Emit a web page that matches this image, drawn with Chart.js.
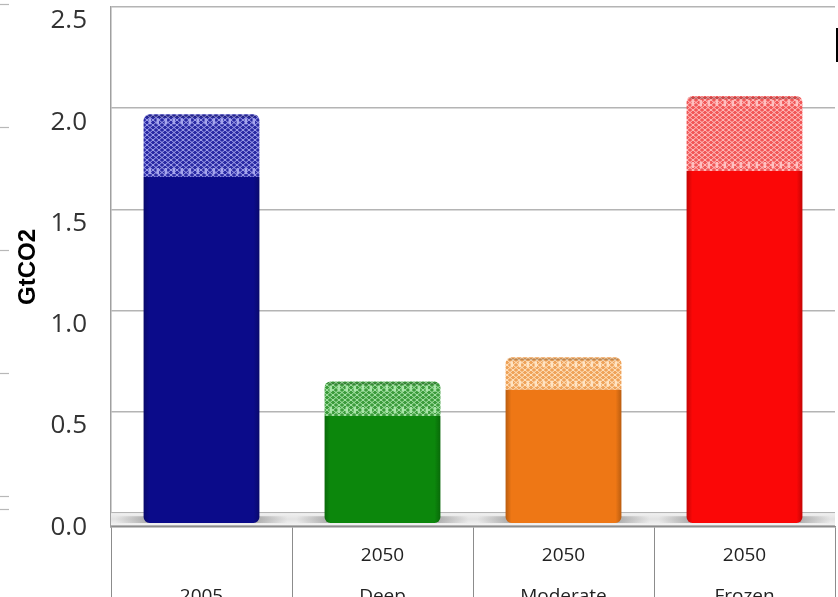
<!DOCTYPE html>
<html>
<head>
<meta charset="utf-8">
<script src="https://cdn.jsdelivr.net/npm/chart.js@4.4.1/dist/chart.umd.min.js"></script>
<style>
  html, body { margin: 0; padding: 0; background: #ffffff; }
  #wrap { width: 838px; height: 597px; position: relative; }
</style>
</head>
<body>
<div id="wrap"><canvas id="c"></canvas></div>
<script>
// Emissions per scenario, split into the firm part and the uncertain (hatched) upper part
const categories = [['', '2005'], ['2050', 'Deep'], ['2050', 'Moderate'], ['2050', 'Frozen']];
const baseValues = [1.66, 0.48, 0.61, 1.69];
const upperValues = [0.31, 0.17, 0.16, 0.37];
const yTicks = [0, 0.5, 1.0, 1.5, 2.0, 2.5];

const solidColors = ['#0b0b8a', '#0c870c', '#ee7715', '#fb0707'];
const meshBase = ['#2a2aa4', '#3c9c3c', '#efa35a', '#f25858'];
const meshLine = ['#a4a4ec', '#a8e4a8', '#ffe3c2', '#ffc0c0'];

const BAR_PCT = 0.64;

function shade(hex, amt) {
  const n = parseInt(hex.slice(1), 16);
  let r = (n >> 16) & 255, g = (n >> 8) & 255, b = n & 255;
  const f = v => Math.max(0, Math.min(255, Math.round(amt < 0 ? v * (1 + amt) : v + (255 - v) * amt)));
  return `rgb(${f(r)},${f(g)},${f(b)})`;
}

function barGeom(chart, i) {
  const xs = chart.scales.x;
  const center = xs.getPixelForValue(i);
  const w = (xs.width / categories.length) * BAR_PCT;
  return { center, w };
}

function solidFill(ctx) {
  const i = ctx.dataIndex;
  if (i === undefined || !ctx.chart.scales.x) return solidColors[0];
  const { center, w } = barGeom(ctx.chart, i);
  const c = solidColors[i];
  if (!isFinite(center) || !isFinite(w) || w <= 0) return c;
  const g = ctx.chart.ctx.createLinearGradient(center - w / 2, 0, center + w / 2, 0);
  g.addColorStop(0, shade(c, -0.22));
  g.addColorStop(0.05, c);
  g.addColorStop(0.95, c);
  g.addColorStop(1, shade(c, -0.22));
  return g;
}

// Small diamond mesh tile for the upper segments
function meshPattern(i) {
  const t = document.createElement('canvas');
  t.width = 6; t.height = 5;
  const g = t.getContext('2d');
  g.fillStyle = meshBase[i];
  g.fillRect(0, 0, 6, 5);
  g.strokeStyle = meshLine[i];
  g.lineWidth = 1;
  g.beginPath();
  g.moveTo(0, 2.5); g.lineTo(3, 0); g.lineTo(6, 2.5); g.lineTo(3, 5); g.closePath();
  g.stroke();
  return document.createElement('canvas').getContext('2d').createPattern(t, 'repeat');
}
const meshPatterns = solidColors.map((_, i) => meshPattern(i));

// Grey 3D floor under the bars, with soft shadows beside each bar
const floorPlugin = {
  id: 'floor',
  beforeDatasetsDraw(chart) {
    const { ctx, chartArea, scales } = chart;
    const y0 = scales.y.getPixelForValue(0);
    const yb = chartArea.bottom - 2;
    ctx.save();
    const g = ctx.createLinearGradient(0, y0, 0, yb);
    g.addColorStop(0, '#f1f1f1');
    g.addColorStop(0.5, '#e2e2e2');
    g.addColorStop(1, '#f3f3f3');
    ctx.fillStyle = g;
    ctx.fillRect(chartArea.left, y0, chartArea.right - chartArea.left, yb - y0);
    ctx.strokeStyle = '#b4b4b4';
    ctx.lineWidth = 1;
    ctx.beginPath();
    ctx.moveTo(chartArea.left, yb + 0.5);
    ctx.lineTo(chartArea.right, yb + 0.5);
    ctx.stroke();
    categories.forEach((_, i) => {
      const { center, w } = barGeom(chart, i);
      const l = center - w / 2 - 28, r = center + w / 2 + 28;
      const sg = ctx.createLinearGradient(l, 0, r, 0);
      sg.addColorStop(0, 'rgba(90,90,90,0)');
      sg.addColorStop(0.2, 'rgba(90,90,90,0.45)');
      sg.addColorStop(0.8, 'rgba(90,90,90,0.45)');
      sg.addColorStop(1, 'rgba(90,90,90,0)');
      ctx.fillStyle = sg;
      ctx.fillRect(l, y0 + 3, r - l, yb - y0 - 5);
    });
    ctx.restore();
  }
};

// Light fringe of short dashes along the top and bottom of each hatched segment
const fringePlugin = {
  id: 'fringe',
  afterDatasetsDraw(chart) {
    const meta = chart.getDatasetMeta(1);
    const { ctx } = chart;
    ctx.save();
    meta.data.forEach((el, i) => {
      const left = el.x - el.width / 2, right = el.x + el.width / 2;
      ctx.fillStyle = meshLine[i];
      [el.y + 4, el.base - 9].forEach(yy => {
        for (let x = left + 5; x < right - 5; x += 8) {
          ctx.fillRect(x, yy, 2.5, 6);
        }
      });
      ctx.fillStyle = 'rgba(0,0,0,0.18)';
      ctx.fillRect(left + 3, el.y + 1, el.width - 6, 2);
    });
    ctx.restore();
  }
};

// Frame bits around the plot: neighbouring rules on the left and the legend edge at the right
const framePlugin = {
  id: 'frame',
  afterDraw(chart) {
    const { ctx, width } = chart;
    ctx.save();
    ctx.strokeStyle = '#b8b8b8';
    ctx.lineWidth = 1.2;
    [4, 127, 250, 373, 496, 509].forEach(y => {
      ctx.beginPath();
      ctx.moveTo(0, y + 0.5);
      ctx.lineTo(9, y + 0.5);
      ctx.stroke();
    });
    ctx.fillStyle = '#000';
    ctx.fillRect(width - 2, 28, 2, 34);
    ctx.restore();
  }
};

new Chart(document.getElementById('c'), {
  type: 'bar',
  data: {
    labels: categories,
    datasets: [
      {
        data: baseValues,
        backgroundColor: solidFill,
        borderRadius: { topLeft: 0, topRight: 0, bottomLeft: 6, bottomRight: 6 },
        borderSkipped: false,
        base: -0.048,
        barPercentage: BAR_PCT,
        categoryPercentage: 1
      },
      {
        data: upperValues,
        backgroundColor: ctx => meshPatterns[ctx.dataIndex ?? 0],
        borderRadius: { topLeft: 6, topRight: 6, bottomLeft: 0, bottomRight: 0 },
        borderSkipped: false,
        barPercentage: BAR_PCT,
        categoryPercentage: 1
      }
    ]
  },
  options: {
    responsive: true,
    maintainAspectRatio: false,
    animation: false,
    layout: { padding: { top: 7, right: 3, left: 0, bottom: 0 } },
    plugins: { legend: { display: false }, tooltip: { enabled: false } },
    scales: {
      x: {
        stacked: true,
        afterFit: s => { s.height = 70; s.paddingLeft = 0; s.paddingRight = 0; },
        grid: { drawOnChartArea: false, drawTicks: true, tickLength: 80, color: '#8c8c8c', lineWidth: 1, offset: true },
        border: { display: true, color: '#8c8c8c', width: 1.5 },
        ticks: {
          padding: -72, maxRotation: 0, autoSkip: false, color: '#222',
          font: { family: 'Open Sans', size: 19, lineHeight: 41 / 19 }
        }
      },
      y: {
        stacked: true,
        min: -0.068,
        max: 2.5,
        afterBuildTicks: s => { s.ticks = yTicks.map(v => ({ value: v })); },
        afterFit: s => { s.width = 111; s.paddingTop = 0; s.paddingBottom = 0; },
        grid: { color: '#b4b4b4', lineWidth: 1.5, drawTicks: false },
        border: { display: true, color: '#a0a0a0', width: 1.5 },
        ticks: {
          padding: 24, labelOffset: 14, color: '#333',
          font: { family: 'Open Sans', size: 26 },
          callback: v => Number(v).toFixed(1)
        },
        title: {
          display: true, text: 'GtCO2', color: '#000',
          font: { family: 'Liberation Sans', size: 24, weight: 'bold' },
          padding: { top: 14, bottom: 0 }
        }
      }
    }
  },
  plugins: [floorPlugin, fringePlugin, framePlugin]
});
</script>
</body>
</html>
